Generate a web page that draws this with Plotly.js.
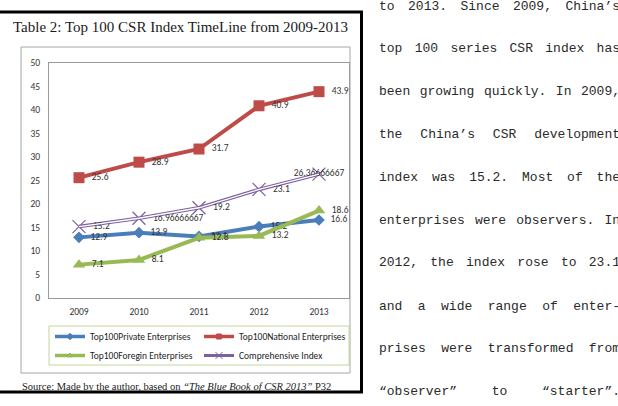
<!DOCTYPE html>
<html>
<head>
<meta charset="utf-8">
<script src="https://cdn.plot.ly/plotly-3.0.1.min.js"></script>
<style>
html, body { margin:0; padding:0; background:#fff; overflow:hidden; width:618px; height:406px; }
#chart { position:absolute; left:0; top:0; width:618px; height:406px; }
.pline { position:absolute; left:379px; font-family:"Liberation Mono", "DejaVu Sans Mono", monospace; font-size:13px; line-height:16px; color:#2a2a2a; white-space:nowrap; z-index:5; }
</style>
</head>
<body>
<div id="chart"></div>
<div id="para"></div>
<script>
// ---- data ----
const years = ['2009', '2010', '2011', '2012', '2013'];
const privateVals = [12.9, 13.9, 13.1, 15.2, 16.6];
const nationalVals = [25.6, 28.9, 31.7, 40.9, 43.9];
const foreignVals = [7.1, 8.1, 12.8, 13.2, 18.6];
const comprehensiveVals = [15.2, 16.96666667, 19.2, 23.1, 26.36666667];
const seriesNames = ['Top100Private Enterprises', 'Top100National Enterprises', 'Top100Foregin Enterprises', 'Comprehensive Index'];
const titleText = 'Table 2: Top 100 CSR Index TimeLine from 2009-2013';
const sourceText = 'Source: Made by the author, based on <i>“The Blue Book of CSR 2013”</i> P32';
const paragraphLines = [
  'to 2013. Since 2009, China’s',
  'top 100 series CSR index has',
  'been growing quickly. In 2009,',
  'the China’s CSR development',
  'index was 15.2. Most of the',
  'enterprises were observers. In',
  '2012, the index rose to 23.1',
  'and a wide range of enter-',
  'prises were transformed from',
  '“observer” to “starter”.'
];

// ---- layout helpers (pixel -> paper) ----
const PL = 49, PR = 349, PT = 63, PB = 298;
const px2x = p => (p - PL) / (PR - PL);
const py2y = p => (PB - p) / (PB - PT);

const labelFont = {family: 'Carlito, Lato, sans-serif', size: 9.5, color: '#333'};
const colors = ['#4A7EBB', '#BE4B48', '#98B954', '#7D60A0'];

function series(vals, color, symbol, msize, textpos) {
  return {
    type: 'scatter', mode: 'lines+markers+text', showlegend: false,
    x: years, y: vals, text: vals.map(v => String(v)), texttemplate: '\u2002%{text}',
    textposition: textpos, textfont: labelFont,
    line: {color: color, width: 4},
    marker: {color: color, symbol: symbol, size: msize},
    cliponaxis: false, hoverinfo: 'x+y'
  };
}

const tPrivate = series(privateVals, colors[0], 'diamond', 9, 'middle right');
const tNational = series(nationalVals, colors[1], 'square', 11, 'middle right');
const tForeign = series(foreignVals, colors[2], 'triangle-up', 11, 'middle right');
const tComp = {
  type: 'scatter', mode: 'lines+markers+text', showlegend: false,
  x: years, y: comprehensiveVals, text: comprehensiveVals.map(v => String(v)),
  texttemplate: ['\u2002%{text}', '\u2002%{text}', '\u2002%{text}', '\u2002%{text}', '%{text}'],
  textposition: ['middle right', 'middle right', 'middle right', 'middle right', 'middle center'],
  textfont: labelFont,
  line: {color: colors[3], width: 3.5},
  marker: {color: colors[3], symbol: 'x-thin-open', size: 13, line: {color: colors[3], width: 1.2}},
  cliponaxis: false, hoverinfo: 'x+y'
};
const tCompInner = {
  type: 'scatter', mode: 'lines', x: years, y: comprehensiveVals,
  line: {color: '#ffffff', width: 1.3}, showlegend: false, hoverinfo: 'skip', cliponaxis: false
};

// legend-only entries (small symbols, as in the reference legend)
const legendSymbols = ['diamond', 'square', 'triangle-up', 'x-thin-open'];
const legendTraces = seriesNames.map((n, i) => ({
  type: 'scatter', mode: 'lines+markers', name: n, x: [null], y: [null],
  line: {color: colors[i], width: i === 3 ? 3 : 3.5},
  marker: {color: colors[i], symbol: legendSymbols[i], size: i === 3 ? 7 : 5, line: {color: colors[i], width: 1}},
  hoverinfo: 'skip'
}));

const axisFont = {family: 'Carlito, Lato, sans-serif', size: 9.5, color: '#333'};

const layout = {
  width: 618, height: 406,
  margin: {l: PL, r: 618 - PR, t: PT, b: 406 - PB, autoexpand: false},
  paper_bgcolor: '#fff', plot_bgcolor: '#fff',
  showlegend: true,
  xaxis: {type: 'category', range: [-0.5, 4.5], showgrid: false, zeroline: false,
          showline: true, mirror: true, linecolor: '#9a9a9a', linewidth: 1,
          ticks: 'outside', ticklen: 5, tickcolor: 'rgba(0,0,0,0)', tickfont: axisFont, fixedrange: true},
  yaxis: {range: [0, 50], dtick: 5, tick0: 0, showgrid: false, zeroline: false,
          showline: true, mirror: true, linecolor: '#9a9a9a', linewidth: 1,
          ticks: 'outside', ticklen: 6, tickcolor: 'rgba(0,0,0,0)', tickfont: axisFont, fixedrange: true},
  legend: {orientation: 'h', x: px2x(50), y: py2y(322), xanchor: 'left', yanchor: 'top',
           entrywidth: 104, entrywidthmode: 'pixels', bgcolor: 'rgba(0,0,0,0)', borderwidth: 0,
           font: {family: 'Carlito, Lato, sans-serif', size: 9.5, color: '#222'}, traceorder: 'normal'},
  annotations: [
    {text: titleText, xref: 'paper', yref: 'paper', x: px2x(180), y: py2y(27), xanchor: 'center', yanchor: 'middle',
     showarrow: false, font: {family: '"Liberation Serif", serif', size: 15, color: '#1a1a1a'}},
    {text: sourceText, xref: 'paper', yref: 'paper', x: px2x(20), y: py2y(386), xanchor: 'left', yanchor: 'middle',
     showarrow: false, font: {family: '"Liberation Serif", serif', size: 10.5, color: '#1a1a1a'}}
  ],
  shapes: [
    {type: 'rect', xref: 'paper', yref: 'paper', x0: px2x(21), x1: px2x(350), y0: py2y(373), y1: py2y(47),
     line: {color: '#a6a6a6', width: 1}, layer: 'below'},
    {type: 'rect', xref: 'paper', yref: 'paper', x0: px2x(49), x1: px2x(349), y0: py2y(365), y1: py2y(326),
     line: {color: '#c3d69b', width: 1}, layer: 'below'},
    {type: 'line', xref: 'paper', yref: 'paper', x0: px2x(0), x1: px2x(363), y0: py2y(12), y1: py2y(12), line: {color: '#000', width: 3}},
    {type: 'line', xref: 'paper', yref: 'paper', x0: px2x(361.5), x1: px2x(361.5), y0: py2y(11), y1: py2y(393), line: {color: '#000', width: 3}},
    {type: 'line', xref: 'paper', yref: 'paper', x0: px2x(0), x1: px2x(363), y0: py2y(392), y1: py2y(392), line: {color: '#000', width: 3}}
  ]
};

Plotly.newPlot('chart', [tPrivate, tNational, tForeign, tComp, tCompInner].concat(legendTraces), layout, {displayModeBar: false, staticPlot: true});

// ---- paragraph on the right (justified lines, clipped by page edge) ----
const para = document.getElementById('para');
const lineCenters = [7, 49, 92, 135, 178, 221, 263, 307, 349, 392];
const targetWidth = 241;
paragraphLines.forEach((t, i) => {
  const d = document.createElement('div');
  d.className = 'pline';
  d.textContent = t;
  d.style.top = (lineCenters[i] - 8) + 'px';
  para.appendChild(d);
  const w = d.getBoundingClientRect().width;
  const gaps = (t.match(/ /g) || []).length;
  if (gaps > 0 && w < targetWidth) d.style.wordSpacing = ((targetWidth - w) / gaps) + 'px';
});
</script>
</body>
</html>
